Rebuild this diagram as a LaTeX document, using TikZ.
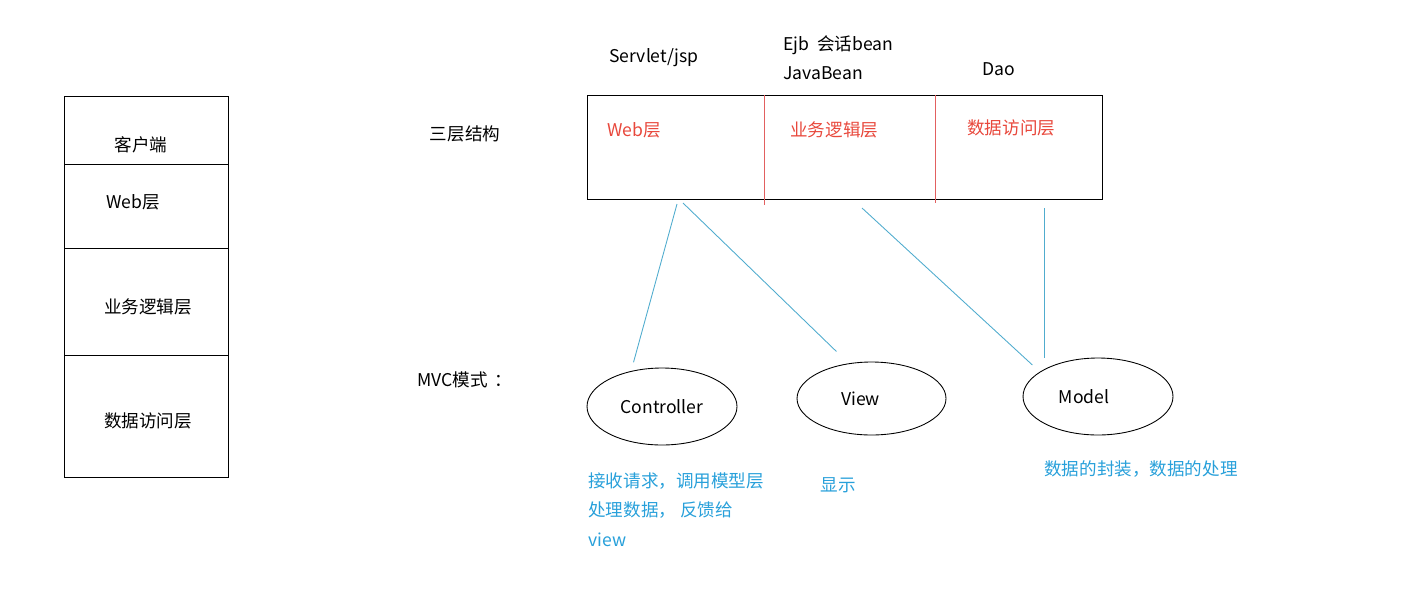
\documentclass[tikz,border=0pt]{standalone}
\usepackage{fontspec}
\setmainfont{Noto Sans CJK SC}
\usepackage{tikz}
\usetikzlibrary{shapes.geometric}
\definecolor{layerred}{RGB}{232,72,60}
\definecolor{linered}{RGB}{226,96,96}
\definecolor{noteblue}{RGB}{40,160,218}
\definecolor{linkblue}{RGB}{80,172,206}

\begin{document}
\begin{tikzpicture}[
    x=0.02cm, y=-0.02cm,
    txt/.style={inner sep=0pt,font=\fontsize{10}{12}\selectfont},
    cell/.style={rectangle,draw,line width=0.5pt,minimum width=3.28cm,
                 inner sep=0pt},
    layer/.style={txt,text=layerred},
    note/.style={inner sep=0pt,text=noteblue,align=left,
                 font=\fontsize{10}{17}\selectfont},
    mvc/.style={ellipse,draw,line width=0.5pt,minimum width=3cm,
                minimum height=1.54cm,inner sep=0pt,
                font=\fontsize{10}{12}\selectfont},
    divider/.style={linered,line width=0.45pt},
    link/.style={linkblue,line width=0.5pt}
  ]
    \useasboundingbox (0,0) rectangle (1408,592);

    \node[cell,minimum height=1.36cm] (client) at (146,130) {};
    \node[cell,minimum height=1.68cm] (web) at (146,206) {};
    \node[cell,minimum height=2.14cm] (biz) at (146,301.5) {};
    \node[cell,minimum height=2.44cm] (data) at (146,416) {};
    \node[txt] (clientt) at (141,145) {客户端};
    \node[txt] (webt) at (133,202) {Web层};
    \node[txt] (bizt) at (148,307) {业务逻辑层};
    \node[txt] (datat) at (148,421) {数据访问层};

    \node[txt] (three) at (465,134) {三层结构};
    \node[txt,anchor=west] (mvclabel) at (417,380) {MVC模式\hspace{0.14cm}：};

    \node[rectangle,draw,line width=0.5pt,minimum width=10.3cm,
          minimum height=2.08cm,inner sep=0pt] (tier) at (844.5,147) {};
    \draw[divider] (764,95) -- (764,205);
    \draw[divider] (935,95) -- (935,203);
    \node[layer,anchor=west] (tweb) at (607,130) {Web层};
    \node[layer,anchor=west] (tbiz) at (790,130) {业务逻辑层};
    \node[layer,anchor=west] (tdata) at (967,128) {数据访问层};

    \node[txt] (servlet) at (654,58) {Servlet/jsp};
    \node[txt,anchor=west] (ejb) at (783,45) {Ejb\ \ 会话bean};
    \node[txt,anchor=west] (javabean) at (783,73) {JavaBean};
    \node[txt] (dao) at (999,69) {Dao};

    \node[mvc] (ctrl) at (662,406.5) {Controller};
    \node[mvc,minimum width=2.98cm,minimum height=1.46cm] (view) at (871.5,398.5)
      {View\kern0.44cm};
    \node[mvc] (model) at (1098,396.5) {Model\kern0.56cm};

    \coordinate (w1) at (677,204);
    \coordinate (w2) at (683,203);
    \coordinate (b1) at (862,208);
    \coordinate (d1) at (1044,208);
    \draw[link,shorten >=0.18cm] (w1) -- (ctrl.131);
    \draw[link,shorten >=0.34cm] (w2) -- (view.123);
    \draw[link,shorten >=0.2cm] (b1) -- (model.157);
    \draw[link] (d1) -- (d1 |- model.north);

    \node[note,anchor=north west] (ctrlnote) at (588,472)
      {接收请求，调用模型层\\处理数据， 反馈给\\view};
    \node[note] (viewnote) at (838,485) {显示};
    \node[note,anchor=west] (modelnote) at (1044,469) {数据的封装，数据的处理};
  \end{tikzpicture}
\end{document}
